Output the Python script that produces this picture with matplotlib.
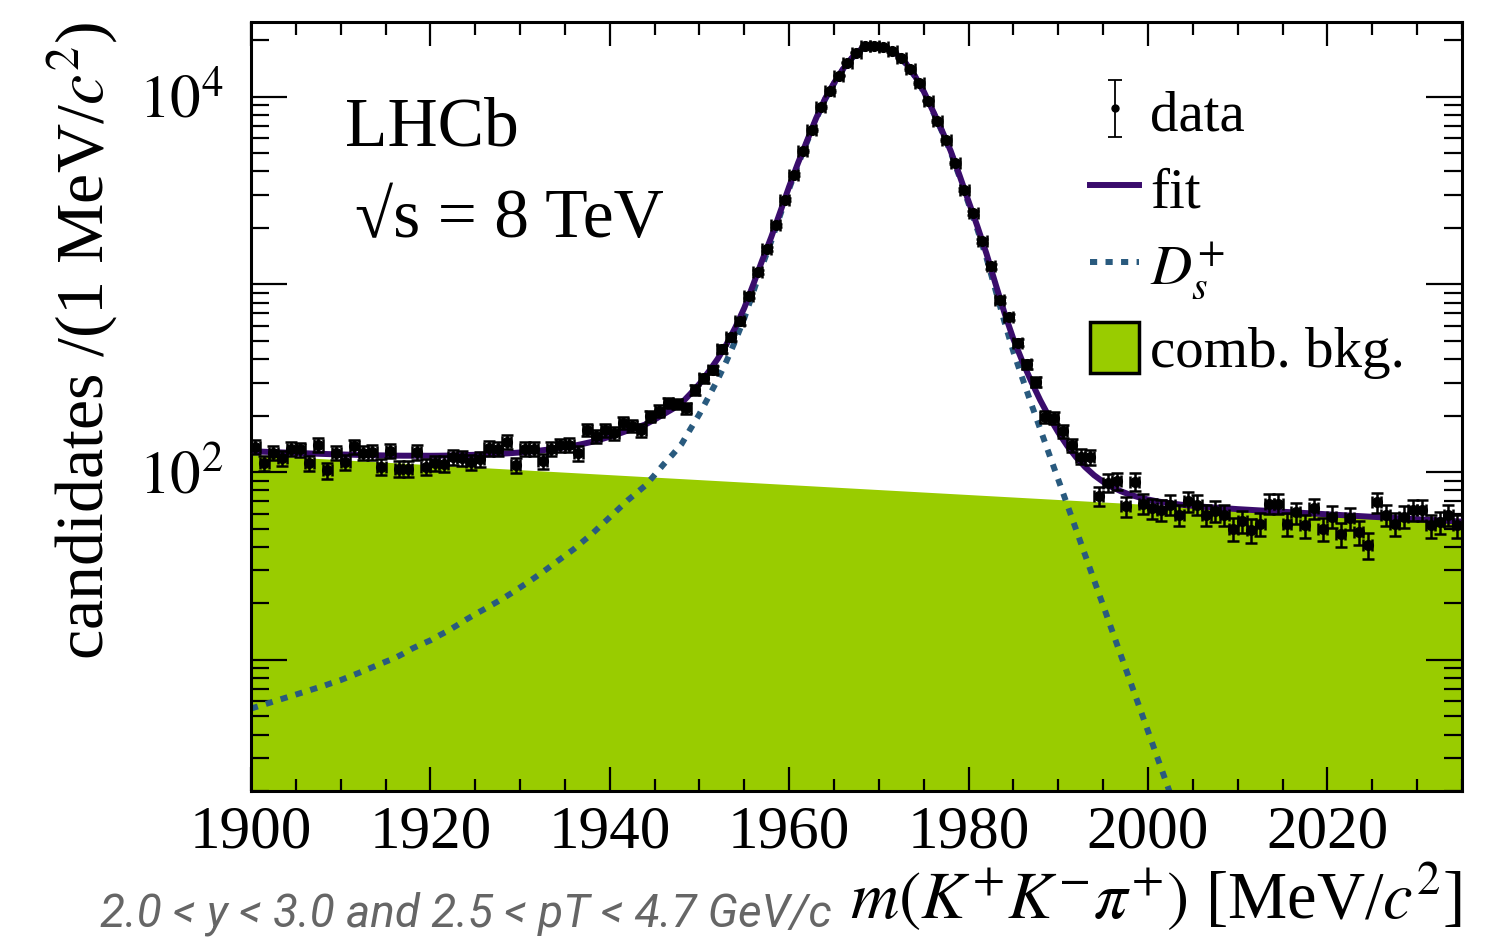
import numpy as np
import matplotlib
matplotlib.use('Agg')
import matplotlib.pyplot as plt
from matplotlib.patches import Patch
from matplotlib.lines import Line2D
from matplotlib.ticker import MultipleLocator, LogLocator, NullFormatter

plt.rcParams['font.family'] = 'Liberation Serif'
plt.rcParams['mathtext.fontset'] = 'stix'

# 1 MeV bins, 1900-2035
mass = np.arange(1900.5, 2035.0, 1.0)
counts = [136, 112, 127, 119, 133, 132, 112, 140, 102, 127,
          113, 137, 127, 128, 107, 130, 104, 104, 128, 107,
          112, 111, 120, 119, 113, 117, 134, 133, 145, 109,
          133, 133, 114, 133, 139, 140, 126, 168, 155, 167,
          161, 183, 177, 167, 198, 212, 234, 231, 219, 275,
          317, 351, 453, 524, 635, 871, 1165, 1544, 2063, 2828,
          3843, 5117, 6676, 8823, 10686, 12957, 15144, 17122, 18568, 18727,
          18432, 17458, 16100, 14068, 11847, 9533, 7458, 5906, 4437, 3197,
          2403, 1710, 1247, 829, 673, 489, 375, 303, 197, 194,
          165, 139, 121, 120, 75, 88, 90, 66, 89, 68,
          64, 63, 67, 59, 70, 67, 59, 62, 59, 50,
          55, 49, 53, 68, 68, 53, 61, 52, 64, 50,
          58, 47, 57, 48, 41, 69, 59, 53, 58, 63,
          63, 52, 54, 59, 52]

# total fit curve
fit_mass = list(range(1900, 2011)) + [2015, 2020, 2025, 2030, 2035]
fit = [129.2, 128.6, 128.1, 127.6, 127.0, 126.5, 126.1, 125.5, 125.0, 124.6,
       124.2, 123.9, 123.5, 123.2, 122.9, 122.7, 122.4, 122.3, 122.3, 122.3,
       122.2, 122.3, 122.5, 122.8, 123.3, 123.7, 124.2, 124.7, 125.4, 126.2,
       127.3, 128.5, 129.9, 131.6, 133.6, 135.8, 138.2, 141.4, 144.9, 149.4,
       154.4, 160.1, 166.5, 172.7, 179.6, 190.6, 203.4, 216.8, 233.3, 261.7,
       295.2, 341.6, 399.1, 478.5, 590, 750, 1000, 1346, 1785, 2430,
       3322, 4450, 5839, 7670, 9745, 11832, 14047, 16114, 17865, 18702,
       18616, 17945, 16791, 15076, 12932, 10671, 8453, 6654, 5147, 3800,
       2768, 2026, 1455, 1008, 705, 511, 389, 303, 241, 196,
       162.7, 138.0, 119.8, 106.3, 96.2, 88.8, 83.2, 79.0, 75.8, 73.4,
       71.5, 69.9, 68.7, 67.7, 66.8, 66.1, 65.5, 64.9, 64.5, 64.0,
       63.5, 61.5, 59.6, 57.8, 56.1, 54.5]

# D_s+ signal component
ds_mass = list(range(1900, 2005))
ds = [5.50, 5.69, 5.89, 6.10, 6.31, 6.53, 6.76, 7.00, 7.24, 7.52,
      7.80, 8.15, 8.51, 8.91, 9.33, 9.77, 10.2, 10.8, 11.5, 12.1,
      12.7, 13.5, 14.3, 15.3, 16.4, 17.5, 18.6, 19.8, 21.1, 22.6,
      24.3, 26.1, 28.2, 30.5, 33.1, 35.9, 38.9, 42.7, 46.8, 51.9,
      57.5, 63.8, 70.8, 77.6, 85.1, 96.6, 110, 124, 141, 170,
      204, 251, 309, 389, 501, 661, 912, 1259, 1698, 2344,
      3236, 4365, 5754, 7586, 9661, 11749, 13964, 16032, 17783, 18621,
      18535, 17865, 16711, 14997, 12853, 10593, 8375, 6577, 5070, 3724,
      2692, 1950, 1380, 933, 631, 437, 316, 230, 169, 124,
      91.2, 67.0, 49.2, 36.1, 26.5, 19.5, 14.3, 10.5, 7.73, 5.68,
      4.17, 3.06, 2.25, 1.65, 1.21]

# combinatorial background (exponential, straight on log axis)
bkg_mass = [1900, 2035]
bkg = [123.7, 54.3]

green = '#99cc00'
purple = '#3a0c6c'
blue = '#295a7e'
ds_style = (0, (1.2, 1.4))

fig = plt.figure(figsize=(14.86, 9.51), dpi=100)
ax = fig.add_axes([0.1689, 0.1682, 0.8149, 0.8087])

ax.fill_between(bkg_mass, 1, bkg, color=green, lw=0, zorder=1)
ax.plot(ds_mass, ds, color=blue, lw=4.3, ls=ds_style, zorder=2)
ax.plot(fit_mass, fit, color=purple, lw=4.3, zorder=3)
ax.errorbar(mass, counts, yerr=np.sqrt(counts), xerr=0.5, fmt='o', ms=7,
            color='k', elinewidth=1.8, capsize=4.5, capthick=1.8, zorder=4)

ax.set_yscale('log')
ax.set_xlim(1900, 2035)
ax.set_ylim(2, 25000)

ax.xaxis.set_major_locator(MultipleLocator(20))
ax.xaxis.set_minor_locator(MultipleLocator(5))
ax.set_yticks([10, 100, 1000, 10000])
ax.set_yticklabels(['', r'$10^{2}$', '', r'$10^{4}$'])
ax.yaxis.set_minor_locator(LogLocator(base=10, subs=np.arange(2, 10), numticks=20))
ax.yaxis.set_minor_formatter(NullFormatter())

ax.tick_params(which='both', direction='in', top=True, right=True, width=1.6, labelsize=44)
ax.tick_params(axis='y', which='major', length=26, pad=20)
ax.tick_params(axis='y', which='minor', length=13)
ax.tick_params(axis='x', which='major', length=17, pad=10)
ax.tick_params(axis='x', which='minor', length=9)
for s in ax.spines.values():
    s.set_linewidth(2.2)

ax.set_ylabel(r'candidates /(1 MeV/$c^{2}$)', fontsize=49, loc='top')
ax.yaxis.set_label_coords(-0.108, 1.0)
ax.set_xlabel(r'$m(K^{+}K^{-}\pi^{+})$ [MeV/$c^{2}$]', fontsize=48, loc='right', labelpad=0)

fig.text(100 / 1486, 1 - 927 / 951, '2.0 < y < 3.0 and 2.5 < pT < 4.7 GeV/c',
         color='#666666', fontsize=33, style='italic',
         family=['Liberation Sans Narrow', 'Roboto'], va='baseline')

ax.text(0.0776, 0.840, 'LHCb', transform=ax.transAxes, fontsize=50)
ax.text(0.086, 0.720, '\u221as = 8 TeV', transform=ax.transAxes, fontsize=50)

h_data = ax.errorbar([np.nan], [np.nan], yerr=[1], fmt='o', color='k', ms=5,
                     elinewidth=1.3, capsize=5, capthick=1.3)
h_fit = Line2D([], [], color=purple, lw=4.3)
h_ds = Line2D([], [], color=blue, lw=4.3, ls=ds_style)
h_bkg = Patch(facecolor=green, edgecolor='k', lw=2.5)
ax.legend([h_data, h_fit, h_ds, h_bkg], ['data', 'fit', r'$D_{s}^{+}$', 'comb. bkg.'],
          loc='upper right', bbox_to_anchor=(0.953, 0.917), fontsize=41, frameon=False,
          handlelength=0.85, handletextpad=0.2, labelspacing=0.35, handleheight=1.0,
          borderaxespad=0, borderpad=0)

fig.savefig('out.png', dpi=100)
